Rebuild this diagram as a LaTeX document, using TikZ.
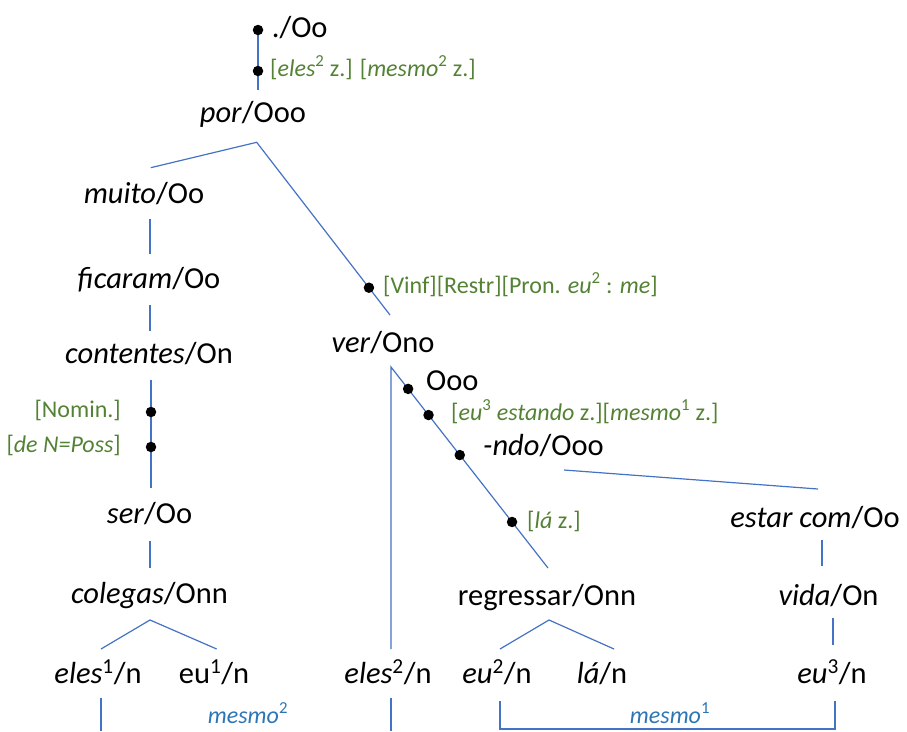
\documentclass[tikz,border=0pt]{standalone}
\usepackage{fontspec}
\setmainfont{Carlito}
\usetikzlibrary{calc}
\definecolor{linkblue}{HTML}{4472C4}
\definecolor{featgreen}{HTML}{548235}
\definecolor{notblue}{HTML}{2E75B6}
% upright superscript index
\newcommand{\idx}[1]{\textsuperscript{\upshape #1}}

\begin{document}
\begin{tikzpicture}[x=1pt,y=-1pt,
  word/.style={inner sep=0pt, anchor=base, font=\fontsize{30.5}{36}\selectfont},
  feat/.style={inner sep=0pt, text=featgreen, font=\fontsize{24}{28}\selectfont},
  coref/.style={inner sep=0pt, anchor=base, text=notblue, font=\fontsize{24}{28}\selectfont\itshape},
  edge/.style={draw=linkblue, line width=1.2pt},
  fdot/.style={circle, fill=black, inner sep=0pt, minimum size=10.5pt}
]
\useasboundingbox (0,0) rectangle (907,731);

% ---- words ----
\node[word] (top)   at (299.7,37)  {./Oo};
\node[word] (por)   at (253,122)   {\textit{por}/Ooo};
\node[word] (muito) at (144,203)   {\textit{muito}/Oo};
\node[word] (fic)   at (149,288)   {\textit{ficaram}/Oo};
\node[word] (cont)  at (149,363)   {\textit{contentes}/On};
\node[word] (ser)   at (149.5,523) {\textit{ser}/Oo};
\node[word] (col)   at (149.5,603) {\textit{colegas}/Onn};
\node[word] (elesA) at (98,683)    {\textit{eles}\idx{1}/n};
\node[word] (euA)   at (214,683)   {eu\idx{1}/n};
\node[word] (ver)   at (383,352)   {\textit{ver}/Ono};
\node[word, anchor=base west] (ooo) at (426,390) {Ooo};
\node[word, anchor=base west] (ndo) at (483,455) {\textit{-ndo}/Ooo};
\node[word] (estar) at (815,527)   {\textit{estar com}/Oo};
\node[word] (vida)  at (828.5,605) {\textit{vida}/On};
\node[word] (regr)  at (547,605)   {regressar/Onn};
\node[word] (elesB) at (388,683)   {\textit{eles}\idx{2}/n};
\node[word] (euB)   at (497,683)   {\textit{eu}\idx{2}/n};
\node[word] (la)    at (602,683)   {\textit{lá}/n};
\node[word] (euC)   at (832,683)   {\textit{eu}\idx{3}/n};

% ---- feature labels ----
\node[feat, anchor=base west] (fTop)  at (270,76)  {[\textit{eles}\idx{2} z.] [\textit{mesmo}\idx{2} z.]};
\node[feat, anchor=base west] (fVinf) at (383,293) {[Vinf][Restr][Pron. \textit{eu}\idx{2} : \textit{me}]};
\node[feat, anchor=base west] (fEu)   at (451,420) {[\textit{eu}\idx{3} \textit{estando} z.][\textit{mesmo}\idx{1} z.]};
\node[feat, anchor=base west] (fLa)   at (527,528) {[\textit{lá} z.]};
\node[feat, anchor=base east] (fNom)  at (121,417) {[Nomin.]};
\node[feat, anchor=base east] (fPoss) at (121,452) {[\textit{de N=Poss}]};

% ---- coreference labels ----
\node[coref] (mesmoB) at (248,723) {mesmo\idx{2}};
\node[coref] (mesmoA) at (670,723) {mesmo\idx{1}};

% ---- connector end points ----
\coordinate (topA) at (258,30);
\coordinate (topB) at (258,90);
\coordinate (porL) at (150.7,167.7);
\coordinate (porP) at (256.7,142.3);
\coordinate (porR) at (390,315);
\coordinate (m1) at (150,219);  \coordinate (m2) at (150,254);
\coordinate (f1) at (150,305);  \coordinate (f2) at (150,331);
\coordinate (c1) at (151,380);  \coordinate (c2) at (151,488);
\coordinate (s1) at (150,541);  \coordinate (s2) at (150,568);
\coordinate (colL) at (101,649); \coordinate (colP) at (150,620); \coordinate (colR) at (216.7,649);
\coordinate (eA1) at (101,698); \coordinate (eA2) at (101,731);
\coordinate (verP) at (391,367); \coordinate (verV) at (391,649);
\coordinate (verD) at (548,568);
\coordinate (eB1) at (391,698); \coordinate (eB2) at (391,731);
\coordinate (nd1) at (564,470); \coordinate (nd2) at (818,489);
\coordinate (es1) at (822,540); \coordinate (es2) at (822,566);
\coordinate (vi1) at (833,618); \coordinate (vi2) at (833,645);
\coordinate (reL) at (500,649); \coordinate (reP) at (549,620); \coordinate (reR) at (614,649);
\coordinate (brL) at (500,701); \coordinate (brLb) at (500,729);
\coordinate (brRb) at (835,729); \coordinate (brR) at (835,701);

% ---- tree edges ----
\draw[edge] (topA) -- (topB);
\draw[edge] (porL) -- (porP) -- (porR);
\draw[edge] (m1) -- (m2);
\draw[edge] (f1) -- (f2);
\draw[edge] (c1) -- (c2);
\draw[edge] (s1) -- (s2);
\draw[edge] (colL) -- (colP) -- (colR);
\draw[edge] (eA1) -- (eA2);
\draw[edge] (verV) -- (verP) -- (verD);
\draw[edge] (eB1) -- (eB2);
\draw[edge] (nd1) -- (nd2);
\draw[edge] (es1) -- (es2);
\draw[edge] (vi1) -- (vi2);
\draw[edge] (reL) -- (reP) -- (reR);
\draw[edge] (brL) -- (brLb) -- (brRb) -- (brR);

% ---- feature dots ----
\node[fdot] (dTop)  at (topA) {};
\node[fdot] (dTop2) at (258,71) {};
\node[fdot] (dVinf) at ($(porP)!0.842!(porR)$) {};
\node[fdot] (dNom)  at (151,412) {};
\node[fdot] (dPoss) at (151,447) {};
\node[fdot] (dOoo)  at ($(verP)!0.109!(verD)$) {};
\node[fdot] (dEu)   at ($(verP)!0.239!(verD)$) {};
\node[fdot] (dNdo)  at ($(verP)!0.438!(verD)$) {};
\node[fdot] (dLa)   at ($(verP)!0.771!(verD)$) {};
\end{tikzpicture}
\end{document}
